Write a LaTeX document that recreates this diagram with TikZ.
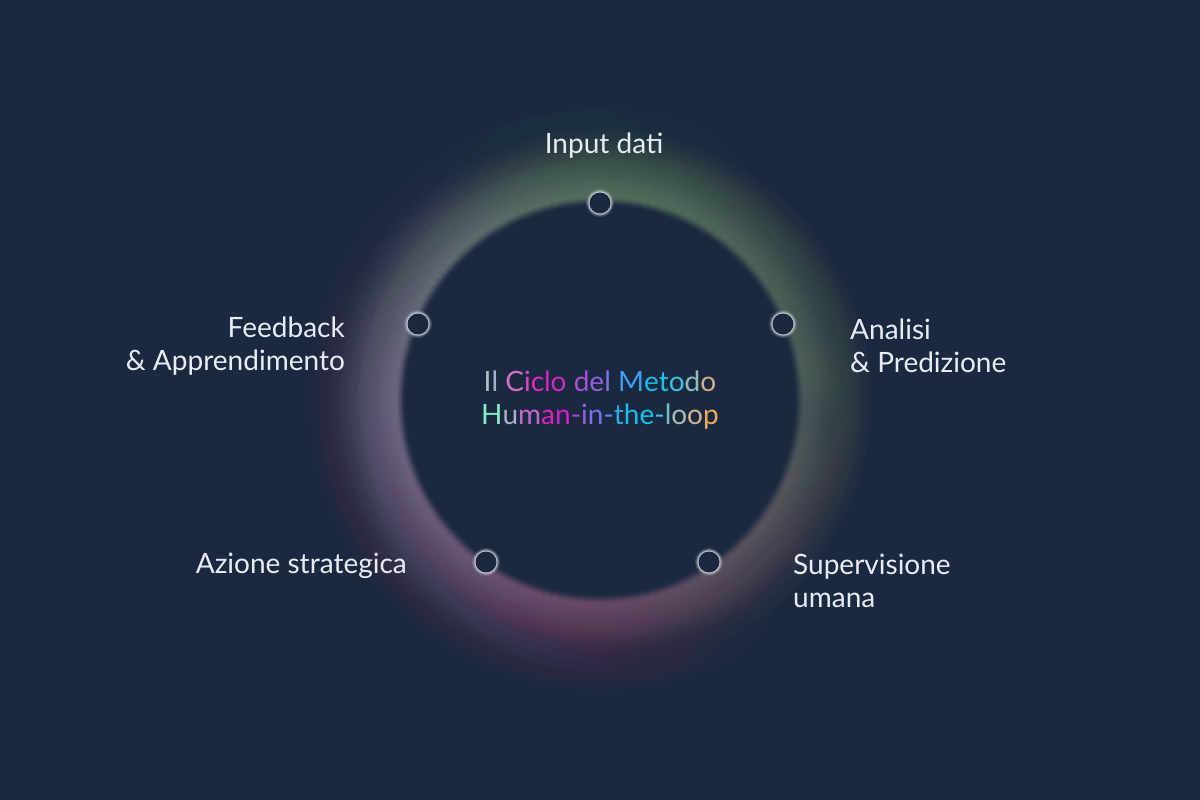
\documentclass[tikz,border=0pt]{standalone}
\usepackage{fontspec}
\setmainfont{Lato}
\definecolor{sfondo}{HTML}{1B2841}
\definecolor{disco}{HTML}{1A2840}
\definecolor{testo}{HTML}{E9EDF3}
\definecolor{verde}{HTML}{8CAE88}
\definecolor{grigioverde}{HTML}{7E9080}
\definecolor{rosa}{HTML}{A87896}
\definecolor{lavanda}{HTML}{ACA0C0}
\definecolor{alonepunto}{HTML}{D3D8E0}
\newcommand{\hc}[2]{\textcolor[HTML]{#1}{#2}}

\begin{document}
\begin{tikzpicture}[x=1pt,y=-1pt,
etichetta/.style={text=testo, font=\fontsize{28}{33.5}\selectfont, inner sep=0pt},
punto/.style={circle, fill=disco, minimum size=21pt, inner sep=0pt}]
\fill[sfondo] (0,0) rectangle (1200,800);
\useasboundingbox (0,0) rectangle (1200,800);
\coordinate (centro) at (600,400);
% alone colorato attorno al disco
\foreach \ca/\cb/\inizio in {grigioverde/rosa/0, rosa/lavanda/90, lavanda/verde/180, verde/grigioverde/270}{
 \foreach \i in {0,...,35}{
  \pgfmathsetmacro\ang{\inizio+2.5*\i}
  \pgfmathtruncatemacro\p{100-\i*100/36}
  \foreach \r/\o in {120/.0035, 110/.0043, 100/.0053, 90/.0066, 80/.0083, 70/.0104, 60/.0129, 50/.0161, 40/.0200, 30/.0250, 20/.0300, 10/.0370}
   \fill[fill=\ca!\p!\cb, opacity=\o] ([shift={(\ang:202)}]centro) circle[radius=\r pt];
 }
}
% disco interno con bordo sfumato
\foreach \r/\o in {203/.12, 201/.25, 199/.42, 197/.62, 195/.85, 193/1}
 \fill[disco, opacity=\o] (centro) circle[radius=\r pt];
% punti
\foreach \n/\x/\y in {input/600/203, analisi/783/324, supervisione/709/562, azione/486/562, feedback/418/324}{
 \foreach \r/\o in {14/.15, 13/.25, 12/.45, 11.3/.7}
  \fill[alonepunto, opacity=\o] (\x,\y) circle[radius=\r pt];
 \node[punto] (p-\n) at (\x,\y) {};
}
\node[etichetta, anchor=base] (l-input) at (604,153.5) {Input dati};
\node[etichetta, anchor=west, align=left] (l-analisi) at (850,346) {Analisi\\\& Predizione};
\node[etichetta, anchor=west, align=left] (l-supervisione) at (793,581) {Supervisione\\umana};
\node[etichetta, anchor=base east] (l-azione) at (407,573) {Azione strategica};
\node[etichetta, anchor=east, align=right] (l-feedback) at (345,346) {Feedback\\\& Apprendimento};
\node[etichetta, align=center] (titolo) at (600,400) {\hc{A8C4C0}{I}\hc{A4B4C4}{l} \hc{D070C4}{C}\hc{DC48C4}{i}\hc{E228C2}{c}\hc{DC20C4}{l}\hc{CC28CC}{o} \hc{A850D8}{d}\hc{9460E0}{e}\hc{8070E4}{l} \hc{3CA0F0}{M}\hc{14BCF2}{e}\hc{10C8F0}{t}\hc{38C4E0}{o}\hc{90C0B8}{d}\hc{D0B088}{o}\\
\hc{80F0C4}{H}\hc{A8B0C8}{u}\hc{C468D0}{m}\hc{E020C0}{a}\hc{D420C8}{n}\hc{B840D4}{-}\hc{9860DE}{i}\hc{7C70E6}{n}\hc{5C88EE}{-}\hc{30A8F2}{t}\hc{14BEF2}{h}\hc{0CC8F0}{e}\hc{40C4E0}{-}\hc{70C0C4}{l}\hc{A4C0B0}{o}\hc{D0B490}{o}\hc{F0A860}{p}};
\end{tikzpicture}
\end{document}
